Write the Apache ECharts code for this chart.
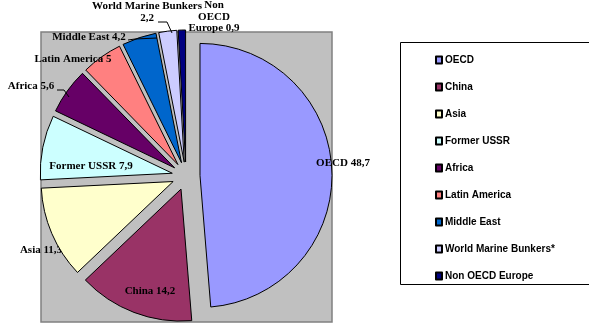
<!DOCTYPE html>
<html>
<head>
<meta charset="utf-8">
<script src="https://cdn.jsdelivr.net/npm/echarts@6/dist/echarts.min.js"></script>
<style>html,body{margin:0;padding:0;background:#fff}#c{width:589px;height:326px}</style>
</head>
<body>
<div id="c"></div>
<script>
const categories = ['OECD','China','Asia','Former USSR','Africa','Latin America','Middle East','World Marine Bunkers*','Non OECD Europe'];
const values = [48.7,14.2,11.3,7.9,5.6,5,4.2,2.2,0.9];
const labelNames = ['OECD ','China ','Asia ','Former USSR ','Africa ','Latin America ','Middle East ','World Marine Bunkers\n','Non\nOECD\nEurope '];
const colors = ['#9999FF','#993366','#FFFFCC','#CCFFFF','#660066','#FF8080','#0066CC','#CCCCFF','#000080'];

// label placement (text only, not marks)
const labelSpots = [[343,163],[150,291],[41,250],[91,166],[31,86],[73,59],[89,37],[147,12],[214,17]];
const labelBelowPie = {2:true};
const leaderLines = {
  4: [[57,90],[64,90],[69,97]],
  6: [[128,40],[135,39],[157,38]],
  7: [[158,22],[167,22],[172,33]]
};

const fmt = v => String(v).replace('.', ',');
const labelFont = {fontFamily:'Liberation Serif, Times New Roman', fontWeight:'bold', fontSize:11};

const graphics = [
  {type:'rect', shape:{x:41,y:32,width:291,height:290}, style:{fill:'#C0C0C0', stroke:'#808080', lineWidth:1.5}, z:-10},
  {type:'rect', shape:{x:400.5,y:42.5,width:200,height:242}, style:{fill:'#fff', stroke:'#000', lineWidth:1}, z:-10}
];
categories.forEach((n,i)=>{
  graphics.push({
    type:'text', x:labelSpots[i][0], y:labelSpots[i][1], z: labelBelowPie[i] ? 1 : 100,
    style:Object.assign({
      text: labelNames[i] + fmt(values[i]),
      fill:'#000', align:'center', verticalAlign:'middle',
      textAlign:'center', textVerticalAlign:'middle', lineHeight:11.5
    }, labelFont)
  });
  if (leaderLines[i]) {
    graphics.push({type:'polyline', z:100, shape:{points:leaderLines[i]}, style:{stroke:'#000', lineWidth:1, fill:null}});
  }
});

const chart = echarts.init(document.getElementById('c'), null, {renderer:'canvas'});
const data = categories.map((n,i)=>({
  name:n, value:values[i], selected:true,
  itemStyle:{color:colors[i]}
}));
chart.setOption({
  animation:false,
  backgroundColor:'#fff',
  graphic:graphics,
  legend:{
    orient:'vertical', left:430, top:49,
    data:categories,
    icon:'rect', itemWidth:6, itemHeight:7, itemGap:15,
    selectedMode:false,
    textStyle:{fontFamily:'Liberation Sans, Arial', fontWeight:'bold', fontSize:10, lineHeight:12, color:'#000', padding:[0,0,0,-2]}
  },
  series:[{
    type:'pie',
    center:[186,176], radius:132,
    startAngle:90, clockwise:true,
    selectedMode:'multiple', selectedOffset:14,
    itemStyle:{borderColor:'#000', borderWidth:1},
    select:{itemStyle:{borderColor:'#000', borderWidth:1}},
    emphasis:{disabled:true},
    label:{show:false},
    labelLine:{show:false},
    data:data
  }]
});
</script>
</body>
</html>
